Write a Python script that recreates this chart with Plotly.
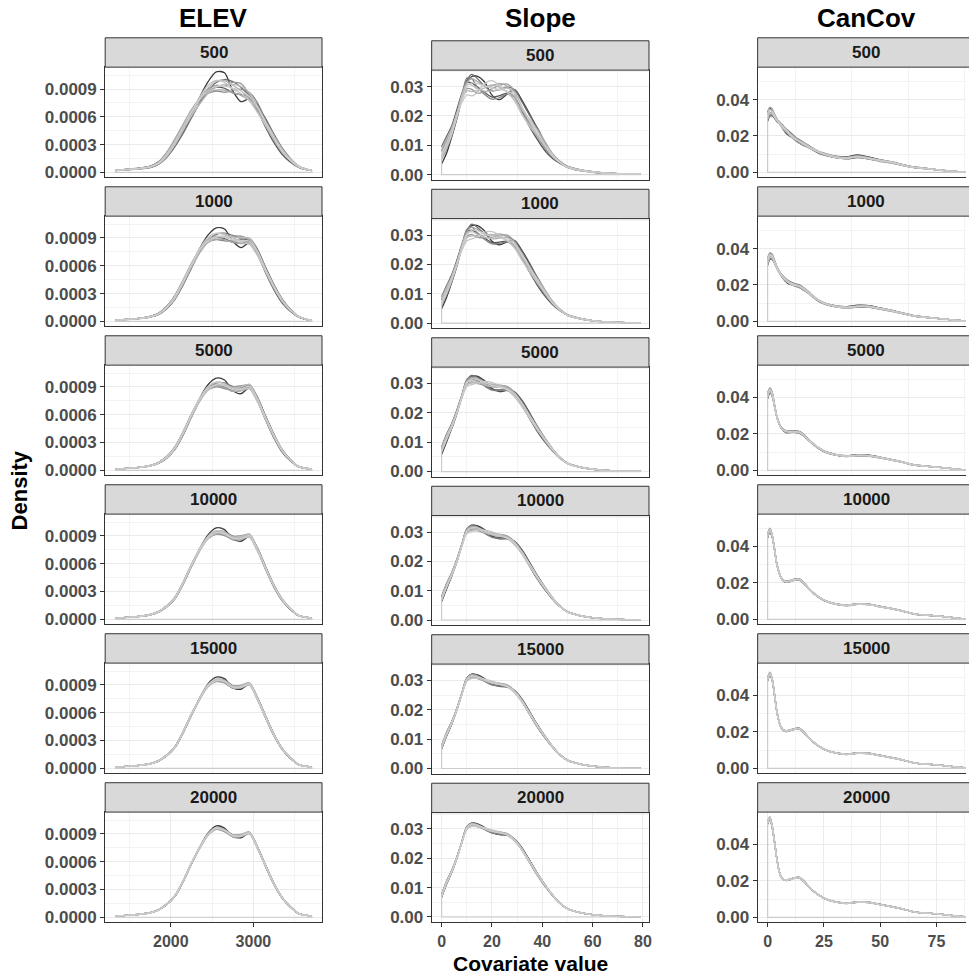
import plotly.graph_objects as go

W, H = 969, 979
FONT = "Liberation Sans, Arial, Helvetica, sans-serif"

COLUMNS = ["ELEV", "Slope", "CanCov"]
SCALES = ["500", "1000", "5000", "10000", "15000", "20000"]

# ---------------- ELEV ----------------
ELEV_X = [1330, 1450, 1600, 1750, 1850, 1950, 2050, 2150, 2250, 2350, 2450, 2550,
          2650, 2750, 2850, 2950, 3050, 3150, 3250, 3350, 3450, 3550, 3650, 3710]
ELEV_500 = [0.00002, 0.00003, 0.00004, 0.00006, 0.00010, 0.00019, 0.00032, 0.00047, 0.00063, 0.00077, 0.00088, 0.00094,
            0.00095, 0.00092, 0.00088, 0.00081, 0.00069, 0.00053, 0.00037, 0.00023, 0.00013, 0.00006, 0.00003, 0.00002]
ELEV_1000 = [0.00001, 0.00002, 0.00003, 0.00005, 0.00008, 0.00015, 0.00026, 0.00042, 0.00060, 0.00076, 0.00087, 0.00092,
             0.00092, 0.00089, 0.00087, 0.00086, 0.00074, 0.00055, 0.00037, 0.00022, 0.00012, 0.00005, 0.00002, 0.00001]
ELEV_5000 = [0.00001, 0.00002, 0.00003, 0.00005, 0.00008, 0.00014, 0.00024, 0.00040, 0.00059, 0.00076, 0.00088, 0.00093,
             0.00092, 0.00088, 0.00088, 0.00090, 0.00076, 0.00056, 0.00037, 0.00021, 0.00011, 0.00004, 0.00002, 0.00001]
ELEV_10000 = [0.00001, 0.00002, 0.00003, 0.00005, 0.00008, 0.00014, 0.00023, 0.00039, 0.00058, 0.00075, 0.00088, 0.00094,
              0.00093, 0.00088, 0.00088, 0.00090, 0.00075, 0.00055, 0.00036, 0.00021, 0.00011, 0.00004, 0.00002, 0.00001]
ELEV_15000 = [0.00001, 0.00002, 0.00003, 0.00005, 0.00008, 0.00014, 0.00023, 0.00039, 0.00058, 0.00075, 0.00089, 0.00095,
              0.00094, 0.00088, 0.00088, 0.00091, 0.00075, 0.00055, 0.00036, 0.00021, 0.00011, 0.00004, 0.00002, 0.00001]
ELEV_20000 = [0.00001, 0.00002, 0.00003, 0.00005, 0.00008, 0.00014, 0.00023, 0.00039, 0.00058, 0.00075, 0.00089, 0.00096,
              0.00094, 0.00088, 0.00088, 0.00091, 0.00075, 0.00055, 0.00036, 0.00021, 0.00011, 0.00004, 0.00002, 0.00001]
# replicate deviations from the row curve (percent), darkest replicate first
ELEV_DEV = [
    [0, 0, -5, -8, -10, -10, -8, -5, 0, 5, 10, 14, 12, -4, -12, -2, 5, 5, 2, 0, -3, -5, -5, 0],
    [5, 8, 10, 12, 12, 10, 8, 6, 4, 2, 0, -2, -4, -6, -4, 0, -3, -8, -12, -15, -15, -12, -8, 0],
    [-5, -8, -10, -12, -14, -14, -12, -9, -6, -3, 0, 3, 5, 6, 4, 2, 4, 8, 10, 12, 12, 10, 6, 0],
    [0, 3, 5, 6, 8, 9, 8, 6, 3, 0, -3, -6, -8, -4, 2, 6, 8, 4, 0, -4, -6, -5, -3, 0],
    [0, -2, -4, -5, -4, -2, 0, 2, 3, 3, 2, 0, -2, 5, 8, 4, -2, -5, -6, -4, -2, 0, 0, 0],
    [3, 4, 6, 8, 10, 12, 12, 10, 7, 3, -2, -5, -6, -6, -5, -4, -5, -6, -6, -5, -3, -2, 0, 0],
    [-3, -4, -6, -8, -9, -8, -6, -3, 0, 2, 3, 4, 4, 2, 0, -2, 0, 3, 6, 8, 8, 6, 4, 0],
    [0, 0, 2, 3, 4, 3, 1, -1, -3, -4, -3, -2, 0, 3, 5, 6, 3, 0, -2, -3, -3, -2, 0, 0],
    [2, 2, 0, -3, -6, -7, -5, -2, 2, 5, 6, 5, 2, -2, -3, -4, -6, -4, 0, 4, 6, 6, 4, 0],
    [0, -1, -2, -1, 0, 2, 4, 5, 4, 2, 0, -1, -2, -1, 0, 1, 2, 2, 1, 0, -1, -1, 0, 0],
]
ELEV_AMP = [1.1, 0.7, 0.5, 0.35, 0.25, 0.2]

# ---------------- Slope ----------------
SLOPE_X = [0, 2, 4, 6, 8, 10, 12, 14, 17, 20, 23, 26, 29, 32, 35, 38, 41, 44, 47, 50, 55, 60, 65, 70, 79]
SLOPE_500 = [0.0070, 0.0105, 0.0145, 0.0200, 0.0257, 0.0300, 0.0305, 0.0300, 0.0295, 0.0292, 0.0290, 0.0288, 0.0270,
             0.0225, 0.0180, 0.0140, 0.0100, 0.0065, 0.0042, 0.0026, 0.0015, 0.0009, 0.0005, 0.0003, 0.0002]
SLOPE_1000 = [0.0072, 0.0110, 0.0150, 0.0200, 0.0255, 0.0300, 0.0312, 0.0308, 0.0300, 0.0293, 0.0290, 0.0286, 0.0268,
              0.0228, 0.0185, 0.0143, 0.0105, 0.0070, 0.0045, 0.0027, 0.0015, 0.0008, 0.0004, 0.0002, 0.0001]
SLOPE_5000 = [0.0073, 0.0116, 0.0154, 0.0200, 0.0253, 0.0302, 0.0312, 0.0310, 0.0301, 0.0292, 0.0287, 0.0282, 0.0263,
              0.0230, 0.0188, 0.0146, 0.0109, 0.0075, 0.0047, 0.0028, 0.0015, 0.0008, 0.0004, 0.0002, 0.0001]
SLOPE_10000 = [0.0073, 0.0117, 0.0155, 0.0200, 0.0253, 0.0303, 0.0313, 0.0311, 0.0302, 0.0292, 0.0287, 0.0281, 0.0262,
               0.0230, 0.0188, 0.0146, 0.0109, 0.0075, 0.0047, 0.0028, 0.0015, 0.0008, 0.0004, 0.0002, 0.0001]
SLOPE_15000 = [0.0073, 0.0118, 0.0155, 0.0200, 0.0253, 0.0303, 0.0315, 0.0312, 0.0302, 0.0292, 0.0287, 0.0281, 0.0262,
               0.0230, 0.0188, 0.0146, 0.0109, 0.0075, 0.0047, 0.0028, 0.0015, 0.0008, 0.0004, 0.0002, 0.0001]
SLOPE_20000 = [0.0073, 0.0118, 0.0155, 0.0200, 0.0253, 0.0303, 0.0315, 0.0312, 0.0302, 0.0292, 0.0287, 0.0281, 0.0262,
               0.0230, 0.0188, 0.0146, 0.0109, 0.0075, 0.0047, 0.0028, 0.0015, 0.0008, 0.0004, 0.0002, 0.0001]
SLOPE_DEV = [
    [-40, -25, -10, -5, 0, 5, 8, 10, 6, -6, -10, -4, 6, 10, 12, 10, 6, 2, 0, -5, -10, -10, -5, 0, 0],
    [30, 20, 12, 8, 6, 4, 2, 0, -4, -8, -6, -3, 0, -4, -8, -12, -15, -12, -8, 0, 5, 5, 0, 0, 0],
    [10, 8, 6, 4, 2, 6, 10, 8, 2, -2, 0, 3, 6, 8, 10, 12, 10, 8, 6, 4, 0, 0, 0, 0, 0],
    [-20, -15, -8, -2, 3, 8, 6, 0, -6, -10, -8, -4, -2, 0, -3, -6, -8, -6, -2, 2, 5, 3, 0, 0, 0],
    [15, 10, 5, 2, 0, -2, -4, -6, -4, 0, 4, 6, 4, 0, -4, -6, -4, 0, 4, 8, 10, 8, 5, 0, 0],
    [-10, -6, -2, 0, 2, 4, 6, 5, 2, 3, 6, 4, -2, -6, -8, -6, -2, 2, 5, 4, 0, -3, -3, 0, 0],
    [25, 15, 8, 4, 0, -4, -6, -4, 0, 4, 2, -2, -5, -2, 4, 8, 10, 8, 4, 0, -5, -5, 0, 0, 0],
    [-5, -3, 0, 2, 4, 2, 0, -2, -3, -2, 0, 2, 3, 2, 0, -2, -3, -4, -4, -3, 0, 2, 2, 0, 0],
    [5, 4, 3, 0, -4, -8, -10, -6, 4, 8, 4, -2, -6, -8, -6, -2, 2, 4, 2, 0, -2, -2, 0, 0, 0],
    [-15, -10, -5, -3, -2, 0, 2, 3, 2, 1, 0, -1, 0, 1, 2, 3, 2, 0, -2, -3, -2, 0, 0, 0, 0],
]
SLOPE_AMP = [1.2, 0.8, 0.5, 0.35, 0.25, 0.2]

# ---------------- CanCov ----------------
CANCOV_X = [0, 1, 2, 3, 4, 5, 6, 7, 8, 9, 10, 12, 14, 16, 18, 20, 23, 26, 30, 35, 40, 45, 50, 55, 60, 65, 70, 75,
            80, 85, 88.6]
CANCOV_500 = [0.031, 0.0335, 0.033, 0.031, 0.029, 0.0275, 0.026, 0.0245, 0.0232, 0.022, 0.0208, 0.0188, 0.0172,
              0.0158, 0.0143, 0.0128, 0.0110, 0.0097, 0.0085, 0.0079, 0.0088, 0.0078, 0.0065, 0.0055, 0.0040, 0.0028,
              0.0022, 0.0015, 0.0009, 0.0004, 0.0002]
CANCOV_1000 = [0.033, 0.036, 0.0355, 0.033, 0.030, 0.0275, 0.0255, 0.024, 0.0228, 0.0218, 0.021, 0.020, 0.0195,
               0.0180, 0.0160, 0.0138, 0.0112, 0.0095, 0.0083, 0.0077, 0.0083, 0.0082, 0.0070, 0.0058, 0.0044, 0.0030,
               0.0023, 0.0017, 0.0011, 0.0005, 0.0002]
CANCOV_5000 = [0.041, 0.044, 0.042, 0.036, 0.030, 0.026, 0.0235, 0.0222, 0.0215, 0.0212, 0.0212, 0.0212, 0.0210,
               0.0195, 0.0170, 0.0148, 0.0120, 0.0100, 0.0086, 0.0078, 0.0083, 0.0081, 0.0070, 0.0058, 0.0045, 0.0030,
               0.0024, 0.0018, 0.0012, 0.0005, 0.0002]
CANCOV_10000 = [0.046, 0.049, 0.046, 0.039, 0.031, 0.026, 0.0228, 0.0213, 0.0207, 0.0207, 0.0210, 0.0218, 0.0220,
                0.0200, 0.0172, 0.0148, 0.0120, 0.0100, 0.0085, 0.0077, 0.0084, 0.0082, 0.0070, 0.0059, 0.0046, 0.0030,
                0.0024, 0.0019, 0.0013, 0.0006, 0.0002]
CANCOV_15000 = [0.049, 0.052, 0.049, 0.041, 0.032, 0.026, 0.0225, 0.0210, 0.0205, 0.0206, 0.0209, 0.0216, 0.0219,
                0.0200, 0.0172, 0.0148, 0.0120, 0.0100, 0.0085, 0.0077, 0.0084, 0.0082, 0.0070, 0.0059, 0.0046, 0.0030,
                0.0024, 0.0019, 0.0013, 0.0006, 0.0002]
CANCOV_20000 = [0.052, 0.0545, 0.050, 0.042, 0.033, 0.026, 0.0222, 0.0208, 0.0205, 0.0205, 0.0208, 0.0216, 0.0218,
                0.0200, 0.0172, 0.0148, 0.0120, 0.0100, 0.0085, 0.0077, 0.0084, 0.0082, 0.0070, 0.0059, 0.0046, 0.0030,
                0.0024, 0.0019, 0.0013, 0.0006, 0.0002]
CANCOV_DEV = [
    [-8, -6, -4, -2, 0, 2, 3, 4, 3, 2, 0, -3, -5, -6, -4, -2, 0, 3, 5, 8, 10, 8, 4, 0, -4, -6, -5, -3, 0, 0, 0],
    [6, 5, 4, 3, 2, 0, -2, -4, -6, -6, -5, -2, 2, 4, 5, 4, 2, 0, -3, -6, -8, -6, -2, 3, 6, 8, 6, 3, 0, 0, 0],
    [-10, -8, -6, -4, -3, -2, 0, 2, 4, 5, 6, 5, 3, 0, -2, -4, -6, -5, -2, 2, 5, 8, 8, 5, 2, 0, -2, -3, -2, 0, 0],
    [3, 3, 2, 1, 0, -1, -2, -2, -1, 0, 2, 4, 5, 4, 2, 0, -2, -3, -4, -3, 0, 3, 6, 8, 8, 5, 2, 0, 0, 0, 0],
    [-4, -3, -2, -1, 0, 1, 2, 3, 2, 0, -2, -5, -7, -6, -3, 0, 4, 6, 6, 3, -2, -6, -8, -8, -6, -3, 0, 2, 2, 0, 0],
    [8, 7, 6, 4, 2, 0, -2, -3, -3, -2, 0, 1, 2, 2, 1, 0, -1, -2, -2, -1, 0, 2, 3, 2, 0, -2, -3, -2, 0, 0, 0],
    [-2, -2, -1, 0, 1, 2, 3, 4, 4, 3, 2, 0, -2, -3, -3, -2, 0, 2, 4, 5, 3, 0, -3, -5, -4, -2, 0, 2, 3, 0, 0],
    [2, 2, 1, 0, -1, -2, -3, -2, 0, 2, 3, 2, 0, -1, 0, 2, 3, 2, 0, -2, -4, -3, 0, 2, 3, 2, 0, -1, -2, 0, 0],
    [-5, -4, -3, -2, -1, 0, 1, 0, -1, -2, -3, -2, 0, 2, 3, 3, 1, -1, -3, -4, -2, 1, 3, 4, 2, 0, -2, -2, 0, 0, 0],
    [4, 3, 2, 1, 0, 0, 0, 1, 2, 2, 1, 0, -1, -2, -2, -1, 0, 1, 1, 0, -1, -1, 0, 1, 1, 0, 0, 0, 0, 0, 0],
]
CANCOV_AMP = [1.0, 0.7, 0.45, 0.3, 0.22, 0.18]

REP_COLORS = ["#3a3a3a", "#555555", "#6e6e6e", "#858585", "#999999",
              "#a8a8a8", "#b4b4b4", "#bdbdbd", "#c5c5c5", "#cccccc"]

# axis tick specs
Y_TICKS = {
    "ELEV": ([0, 0.0003, 0.0006, 0.0009], ["0.0000", "0.0003", "0.0006", "0.0009"]),
    "Slope": ([0, 0.01, 0.02, 0.03], ["0.00", "0.01", "0.02", "0.03"]),
    "CanCov": ([0, 0.02, 0.04], ["0.00", "0.02", "0.04"]),
}
Y_MINOR = {"ELEV": [0.00015, 0.00045, 0.00075, 0.00105], "Slope": [0.005, 0.015, 0.025, 0.035],
           "CanCov": [0.01, 0.03, 0.05]}
X_TICKS = {"ELEV": [2000, 3000], "Slope": [0, 20, 40, 60, 80], "CanCov": [0, 25, 50, 75]}
X_MINOR = {"ELEV": [1500, 2500, 3500], "Slope": [10, 30, 50, 70], "CanCov": [12.5, 37.5, 62.5, 87.5]}
X_RANGE = {"ELEV": [1205, 3831], "Slope": [-3.96, 82.4], "CanCov": [-4.43, 88.16]}
Y_RANGE = {"ELEV": [-0.000054, 0.001136], "Slope": [-0.0018, 0.0356], "CanCov": [-0.0027, 0.0578]}

DATA = {
    "ELEV": (ELEV_X, [ELEV_500, ELEV_1000, ELEV_5000, ELEV_10000, ELEV_15000, ELEV_20000], ELEV_DEV, ELEV_AMP),
    "Slope": (SLOPE_X, [SLOPE_500, SLOPE_1000, SLOPE_5000, SLOPE_10000, SLOPE_15000, SLOPE_20000], SLOPE_DEV, SLOPE_AMP),
    "CanCov": (CANCOV_X, [CANCOV_500, CANCOV_1000, CANCOV_5000, CANCOV_10000, CANCOV_15000, CANCOV_20000],
               CANCOV_DEV, CANCOV_AMP),
}

# ---------------- layout geometry (pixels) ----------------
col_x = [(105.5, 323.0), (433.0, 651.0), (760.0, 969.0)]
strip_right = [323.0, 651.0, 978.0]
col_top = [38.0, 41.0, 38.0]
bottom = 927.0
strip_h, gap = 29.5, 9.5


def fx(px):
    return px / W


def fy(py):
    return 1 - py / H


fig = go.Figure()
layout = {}
shapes = []
annotations = []

for c, cname in enumerate(COLUMNS):
    xs, bases, devs, amps = DATA[cname]
    ph = (bottom - col_top[c] - 6 * strip_h - 5 * gap) / 6
    x0px, x1px = col_x[c]
    for r in range(6):
        k = c * 6 + r + 1
        sfx = "" if k == 1 else str(k)
        st = col_top[c] + r * (strip_h + ph + gap)
        pt = st + strip_h
        pb = pt + ph
        base = bases[r]
        for j, dev in enumerate(devs):
            ys = [b * (1 + amps[r] * d / 100.0) for b, d in zip(base, dev)]
            fig.add_trace(go.Scatter(
                x=xs, y=ys, mode="lines",
                line=dict(color=REP_COLORS[j], width=1.3, shape="spline", smoothing=0.8),
                xaxis="x" + sfx, yaxis="y" + sfx, hoverinfo="skip", showlegend=False))
        # polygon baseline edges of the density outline
        fig.add_trace(go.Scatter(
            x=[xs[0], xs[0], xs[-1], xs[-1]], y=[base[0], 0, 0, base[-1]], mode="lines",
            line=dict(color="#cccccc", width=1.2),
            xaxis="x" + sfx, yaxis="y" + sfx, hoverinfo="skip", showlegend=False))

        is_bottom = r == 5
        mirror = cname != "CanCov"
        layout["xaxis" + sfx] = dict(
            domain=[fx(x0px), fx(x1px)], anchor="y" + sfx, range=X_RANGE[cname],
            tickvals=X_TICKS[cname] if is_bottom else [],
            ticktext=[str(v) for v in X_TICKS[cname]] if is_bottom else [],
            showticklabels=is_bottom, ticks="outside" if is_bottom else "", ticklen=4,
            tickcolor="#333333", tickwidth=1, ticklabelstandoff=1,
            tickfont=dict(family=FONT, size=16, color="#4D4D4D", weight="bold"),
            showgrid=True, gridcolor="#EBEBEB", gridwidth=1, zeroline=False,
            minor=dict(tickvals=X_MINOR[cname], showgrid=True, gridcolor="#F3F3F3", gridwidth=0.7, ticks=""),
            showline=True, linecolor="#333333", linewidth=1, mirror=mirror, fixedrange=True)
        layout["yaxis" + sfx] = dict(
            domain=[fy(pb), fy(pt)], anchor="x" + sfx, range=Y_RANGE[cname],
            tickvals=Y_TICKS[cname][0], ticktext=Y_TICKS[cname][1],
            ticks="outside", ticklen=4, tickcolor="#333333", tickwidth=1,
            tickfont=dict(family=FONT, size=17, color="#4D4D4D", weight="bold"),
            showgrid=True, gridcolor="#EBEBEB", gridwidth=1, zeroline=False,
            minor=dict(tickvals=Y_MINOR[cname], showgrid=True, gridcolor="#F3F3F3", gridwidth=0.7, ticks=""),
            showline=True, linecolor="#333333", linewidth=1, mirror=mirror, fixedrange=True)

        # strip
        shapes.append(dict(type="rect", xref="paper", yref="paper",
                           x0=fx(x0px), x1=fx(strip_right[c]), y0=fy(pt), y1=fy(st),
                           fillcolor="#D9D9D9", line=dict(color="#333333", width=1), layer="above"))
        annotations.append(dict(text=SCALES[r], xref="paper", yref="paper",
                                x=fx((x0px + strip_right[c]) / 2), y=fy(st + strip_h / 2),
                                xanchor="center", yanchor="middle", showarrow=False,
                                font=dict(family=FONT, size=17, color="#1A1A1A", weight="bold")))

    # column title
    annotations.append(dict(text=cname, xref="paper", yref="paper",
                            x=fx((x0px + strip_right[c]) / 2), y=fy(18),
                            xanchor="center", yanchor="middle", showarrow=False,
                            font=dict(family=FONT, size=26, color="#000000", weight="bold")))

annotations.append(dict(text="Density", xref="paper", yref="paper", x=fx(20), y=fy(493),
                        xanchor="center", yanchor="middle", showarrow=False, textangle=-90,
                        font=dict(family=FONT, size=22, color="#000000", weight="bold")))
annotations.append(dict(text="Covariate value", xref="paper", yref="paper", x=fx(532), y=fy(968),
                        xanchor="center", yanchor="middle", showarrow=False,
                        font=dict(family=FONT, size=21, color="#000000", weight="bold")))

fig.update_layout(
    width=W, height=H, margin=dict(l=0, r=0, t=0, b=0),
    paper_bgcolor="white", plot_bgcolor="white",
    shapes=shapes, annotations=annotations, showlegend=False, **layout)

fig.write_html("out.html")
